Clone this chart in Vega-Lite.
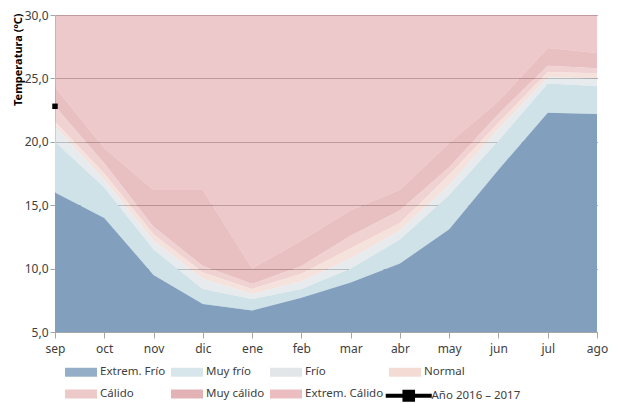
{
  "$schema": "https://vega.github.io/schema/vega-lite/v6.json",
  "width": 542,
  "height": 317,
  "autosize": "none",
  "padding": {"left": 55, "top": 15, "right": 21, "bottom": 71},
  "background": "white",
  "config": {
    "view": {"stroke": null},
    "font": "Noto Sans",
    "axis": {"labelFont": "Noto Sans", "labelColor": "#404040", "labelFontSize": 11.5, "domainColor": "#a6a6a6", "tickColor": "#a6a6a6"}
  },
  "datasets": {
    "bandas": [
      {"mes": "sep", "serie": "Extrem. Cálido", "t": 30, "t_inf": 24.3}, {"mes": "oct", "serie": "Extrem. Cálido", "t": 30, "t_inf": 19.5}, {"mes": "nov", "serie": "Extrem. Cálido", "t": 30, "t_inf": 16.2}, {"mes": "dic", "serie": "Extrem. Cálido", "t": 30, "t_inf": 16.2}, {"mes": "ene", "serie": "Extrem. Cálido", "t": 30, "t_inf": 10.0}, {"mes": "feb", "serie": "Extrem. Cálido", "t": 30, "t_inf": 12.2}, {"mes": "mar", "serie": "Extrem. Cálido", "t": 30, "t_inf": 14.6}, {"mes": "abr", "serie": "Extrem. Cálido", "t": 30, "t_inf": 16.2}, {"mes": "may", "serie": "Extrem. Cálido", "t": 30, "t_inf": 19.9}, {"mes": "jun", "serie": "Extrem. Cálido", "t": 30, "t_inf": 23.2}, {"mes": "jul", "serie": "Extrem. Cálido", "t": 30, "t_inf": 27.4}, {"mes": "ago", "serie": "Extrem. Cálido", "t": 30, "t_inf": 27.0},
      {"mes": "sep", "serie": "Muy cálido", "t": 24.3, "t_inf": 22.8}, {"mes": "oct", "serie": "Muy cálido", "t": 19.5, "t_inf": 18.3}, {"mes": "nov", "serie": "Muy cálido", "t": 16.2, "t_inf": 13.3}, {"mes": "dic", "serie": "Muy cálido", "t": 16.2, "t_inf": 10.2}, {"mes": "ene", "serie": "Muy cálido", "t": 10.0, "t_inf": 8.8}, {"mes": "feb", "serie": "Muy cálido", "t": 12.2, "t_inf": 10.2}, {"mes": "mar", "serie": "Muy cálido", "t": 14.6, "t_inf": 12.6}, {"mes": "abr", "serie": "Muy cálido", "t": 16.2, "t_inf": 14.6}, {"mes": "may", "serie": "Muy cálido", "t": 19.9, "t_inf": 18.0}, {"mes": "jun", "serie": "Muy cálido", "t": 23.2, "t_inf": 22.2}, {"mes": "jul", "serie": "Muy cálido", "t": 27.4, "t_inf": 26.0}, {"mes": "ago", "serie": "Muy cálido", "t": 27.0, "t_inf": 25.8},
      {"mes": "sep", "serie": "Cálido", "t": 22.8, "t_inf": 21.6}, {"mes": "oct", "serie": "Cálido", "t": 18.3, "t_inf": 17.5}, {"mes": "nov", "serie": "Cálido", "t": 13.3, "t_inf": 12.7}, {"mes": "dic", "serie": "Cálido", "t": 10.2, "t_inf": 9.7}, {"mes": "ene", "serie": "Cálido", "t": 8.8, "t_inf": 8.4}, {"mes": "feb", "serie": "Cálido", "t": 10.2, "t_inf": 9.6}, {"mes": "mar", "serie": "Cálido", "t": 12.6, "t_inf": 11.6}, {"mes": "abr", "serie": "Cálido", "t": 14.6, "t_inf": 13.6}, {"mes": "may", "serie": "Cálido", "t": 18.0, "t_inf": 17.4}, {"mes": "jun", "serie": "Cálido", "t": 22.2, "t_inf": 21.5}, {"mes": "jul", "serie": "Cálido", "t": 26.0, "t_inf": 25.5}, {"mes": "ago", "serie": "Cálido", "t": 25.8, "t_inf": 25.4},
      {"mes": "sep", "serie": "Normal", "t": 21.6, "t_inf": 21.2}, {"mes": "oct", "serie": "Normal", "t": 17.5, "t_inf": 17.0}, {"mes": "nov", "serie": "Normal", "t": 12.7, "t_inf": 12.2}, {"mes": "dic", "serie": "Normal", "t": 9.7, "t_inf": 9.2}, {"mes": "ene", "serie": "Normal", "t": 8.4, "t_inf": 8.0}, {"mes": "feb", "serie": "Normal", "t": 9.6, "t_inf": 9.0}, {"mes": "mar", "serie": "Normal", "t": 11.6, "t_inf": 10.8}, {"mes": "abr", "serie": "Normal", "t": 13.6, "t_inf": 13.0}, {"mes": "may", "serie": "Normal", "t": 17.4, "t_inf": 16.6}, {"mes": "jun", "serie": "Normal", "t": 21.5, "t_inf": 21.0}, {"mes": "jul", "serie": "Normal", "t": 25.5, "t_inf": 25.1}, {"mes": "ago", "serie": "Normal", "t": 25.4, "t_inf": 25.0},
      {"mes": "sep", "serie": "Frío", "t": 21.2, "t_inf": 20.0}, {"mes": "oct", "serie": "Frío", "t": 17.0, "t_inf": 16.4}, {"mes": "nov", "serie": "Frío", "t": 12.2, "t_inf": 11.5}, {"mes": "dic", "serie": "Frío", "t": 9.2, "t_inf": 8.4}, {"mes": "ene", "serie": "Frío", "t": 8.0, "t_inf": 7.6}, {"mes": "feb", "serie": "Frío", "t": 9.0, "t_inf": 8.4}, {"mes": "mar", "serie": "Frío", "t": 10.8, "t_inf": 10.0}, {"mes": "abr", "serie": "Frío", "t": 13.0, "t_inf": 12.3}, {"mes": "may", "serie": "Frío", "t": 16.6, "t_inf": 15.8}, {"mes": "jun", "serie": "Frío", "t": 21.0, "t_inf": 20.1}, {"mes": "jul", "serie": "Frío", "t": 25.1, "t_inf": 24.6}, {"mes": "ago", "serie": "Frío", "t": 25.0, "t_inf": 24.4},
      {"mes": "sep", "serie": "Muy frío", "t": 20.0, "t_inf": 16.0}, {"mes": "oct", "serie": "Muy frío", "t": 16.4, "t_inf": 14.0}, {"mes": "nov", "serie": "Muy frío", "t": 11.5, "t_inf": 9.5}, {"mes": "dic", "serie": "Muy frío", "t": 8.4, "t_inf": 7.2}, {"mes": "ene", "serie": "Muy frío", "t": 7.6, "t_inf": 6.7}, {"mes": "feb", "serie": "Muy frío", "t": 8.4, "t_inf": 7.7}, {"mes": "mar", "serie": "Muy frío", "t": 10.0, "t_inf": 8.9}, {"mes": "abr", "serie": "Muy frío", "t": 12.3, "t_inf": 10.4}, {"mes": "may", "serie": "Muy frío", "t": 15.8, "t_inf": 13.1}, {"mes": "jun", "serie": "Muy frío", "t": 20.1, "t_inf": 17.8}, {"mes": "jul", "serie": "Muy frío", "t": 24.6, "t_inf": 22.3}, {"mes": "ago", "serie": "Muy frío", "t": 24.4, "t_inf": 22.2},
      {"mes": "sep", "serie": "Extrem. Frío", "t": 16.0, "t_inf": 5}, {"mes": "oct", "serie": "Extrem. Frío", "t": 14.0, "t_inf": 5}, {"mes": "nov", "serie": "Extrem. Frío", "t": 9.5, "t_inf": 5}, {"mes": "dic", "serie": "Extrem. Frío", "t": 7.2, "t_inf": 5}, {"mes": "ene", "serie": "Extrem. Frío", "t": 6.7, "t_inf": 5}, {"mes": "feb", "serie": "Extrem. Frío", "t": 7.7, "t_inf": 5}, {"mes": "mar", "serie": "Extrem. Frío", "t": 8.9, "t_inf": 5}, {"mes": "abr", "serie": "Extrem. Frío", "t": 10.4, "t_inf": 5}, {"mes": "may", "serie": "Extrem. Frío", "t": 13.1, "t_inf": 5}, {"mes": "jun", "serie": "Extrem. Frío", "t": 17.8, "t_inf": 5}, {"mes": "jul", "serie": "Extrem. Frío", "t": 22.3, "t_inf": 5}, {"mes": "ago", "serie": "Extrem. Frío", "t": 22.2, "t_inf": 5}
    ],
    "anio": [
      {"mes": "sep", "serie": "Año 2016 – 2017", "t": 22.8}
    ]
  },
  "encoding": {
    "x": {
      "field": "mes", "type": "ordinal",
      "scale": {"type": "point", "padding": 0, "domain": ["sep","oct","nov","dic","ene","feb","mar","abr","may","jun","jul","ago"]},
      "axis": {"title": null, "labelAngle": 0, "labelFontSize": 12, "labelPadding": 5, "tickSize": 6, "grid": false}
    },
    "y": {
      "field": "t", "type": "quantitative", "stack": null,
      "scale": {"domain": [5, 30], "zero": false, "nice": false},
      "axis": {
        "title": "Temperatura (ºC)", "titleFontSize": 11, "titleFontWeight": "bold", "titleColor": "#000000",
        "titleAnchor": "end", "titleAlign": "right", "titleBaseline": "middle", "titleX": -37, "titleY": -2,
        "values": [5, 10, 15, 20, 25, 30], "labelExpr": "replace(format(datum.value, '.1f'), '.', ',')",
        "labelFontSize": 12, "tickSize": 5, "labelPadding": 2,
        "grid": true, "gridColor": "#666666", "gridWidth": 1
      }
    }
  },
  "layer": [
    {
      "data": {"name": "bandas"},
      "mark": {"type": "area", "clip": true, "interpolate": "linear"},
      "encoding": {
        "y2": {"field": "t_inf"},
        "color": {
          "field": "serie", "type": "nominal",
          "scale": {
            "domain": ["Extrem. Frío", "Muy frío", "Frío", "Normal", "Cálido", "Muy cálido", "Extrem. Cálido"],
            "range": ["#82a0be", "#cfe2e8", "#dde2e5", "#f2d6cd", "#eabfc0", "#dea5a8", "#e7b2b5"]
          },
          "legend": {
            "title": null, "orient": "none", "legendX": 10, "legendY": 341, "direction": "horizontal", "columns": 4,
            "gridAlign": "each",
            "symbolType": "M-1,-0.28H1V0.28H-1Z", "symbolOpacity": 0.85,
            "symbolSize": 1024, "symbolStrokeWidth": 0, "labelFontSize": 11.5, "labelColor": "#404040", "labelFont": "Noto Sans",
            "labelOffset": 3, "columnPadding": 5, "rowPadding": -7
          }
        },
        "opacity": {"condition": {"test": "datum.serie === 'Extrem. Frío' || datum.serie === 'Muy frío'", "value": 1}, "value": 0.7}
      }
    },
    {
      "data": {"name": "anio"},
      "mark": {"type": "point", "shape": "square", "filled": true, "opacity": 1, "color": "#000000"},
      "encoding": {
        "size": {
          "field": "serie", "type": "ordinal",
          "scale": {"range": [30, 30]},
          "legend": {
            "title": null, "orient": "none", "legendX": 348, "legendY": 375,
            "symbolType": "M-8.4,-0.7H8.4V0.7H-8.4Z M-2.3,-2.2H2.3V2.2H-2.3Z",
            "symbolFillColor": "#000000", "symbolStrokeWidth": 0, "symbolOpacity": 1,
            "labelFontSize": 11.5, "labelColor": "#404040", "labelFont": "Noto Sans", "labelOffset": 17
          }
        }
      }
    }
  ]
}
